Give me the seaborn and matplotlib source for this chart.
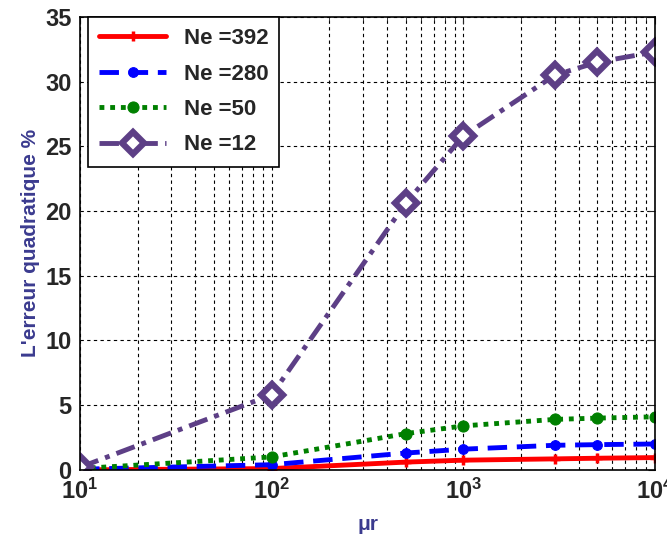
import numpy as np
import pandas as pd
import matplotlib.pyplot as plt
import seaborn as sns
from matplotlib.ticker import LogLocator, NullFormatter

mu_r = [10, 100, 500, 1000, 3000, 5000, 10000]
err_392 = [0.0, 0.1, 0.6, 0.75, 0.85, 0.9, 0.95]
err_280 = [0.05, 0.4, 1.3, 1.6, 1.9, 1.95, 2.0]
err_50 = [0.1, 1.0, 2.8, 3.4, 3.9, 4.0, 4.1]
err_12 = [0.2, 5.8, 20.6, 25.8, 30.5, 31.5, 32.3]
labels = ["Ne =392", "Ne =280", "Ne =50", "Ne =12"]

sns.set_style("white")
plt.rcParams['font.family'] = ['Arial', 'Liberation Sans', 'DejaVu Sans']

fig = plt.figure(figsize=(6.67, 5.47), dpi=100)
ax = fig.add_axes([0.12, 0.141, 0.862, 0.828])

styles = [
    dict(color='#ff0000', linestyle='-', marker='+', markersize=7, mew=2.5,
         markeredgecolor='#ff0000'),
    dict(color='#0000ff', linestyle=(0, (4, 2)), marker='o', markersize=7,
         markeredgecolor='#0000ff'),
    dict(color='#008000', linestyle=(0, (1, 1.2)), marker='o', markersize=8,
         markeredgecolor='#008000'),
    dict(color='#5d3f86', linestyle=(0, (4, 1.5, 1, 1.5)), marker='D', markersize=11,
         markerfacecolor='white', markeredgecolor='#5d3f86', mew=4.5),
]
series = [err_392, err_280, err_50, err_12]
for vals, lab, st in zip(series, labels, styles):
    df = pd.DataFrame({"mu_r": mu_r, "err": vals})
    sns.lineplot(data=df, x="mu_r", y="err", ax=ax, label=lab, linewidth=3.5, **st)

ax.set_xscale('log')
ax.set_xlim(10, 10000)
ax.set_ylim(0, 35)
ax.set_yticks(range(0, 36, 5))
ax.xaxis.set_minor_locator(LogLocator(base=10, subs=np.arange(2, 10)))
ax.xaxis.set_minor_formatter(NullFormatter())
ax.grid(True, which='major', color='black', linestyle=(0, (3, 3)), linewidth=0.8)
ax.grid(True, which='minor', axis='x', color='black', linestyle=(0, (3, 3)), linewidth=0.8)
ax.tick_params(which='both', direction='in', top=True, right=True)
ax.tick_params(which='major', length=5, labelsize=17, pad=6)
ax.tick_params(which='minor', length=3)
for lbl in ax.get_xticklabels() + ax.get_yticklabels():
    lbl.set_fontweight('bold')
for s in ax.spines.values():
    s.set_color('black')
    s.set_linewidth(1.2)

ax.set_xlabel("μr", fontsize=15, fontweight='bold', color='#3b3b8f', labelpad=8)
ax.set_ylabel("L'erreur quadratique %", fontsize=15, fontweight='bold', color='#3b3b8f',
              labelpad=4)

leg = ax.legend(loc='upper left', bbox_to_anchor=(0.014, 1.0), borderaxespad=0,
                fontsize=16, frameon=True, fancybox=False, edgecolor='black',
                framealpha=1, handlelength=3.0, labelspacing=0.65, borderpad=0.5)
leg.get_frame().set_linewidth(1.2)
for t in leg.get_texts():
    t.set_fontweight('bold')

fig.savefig("out.png", dpi=100)
